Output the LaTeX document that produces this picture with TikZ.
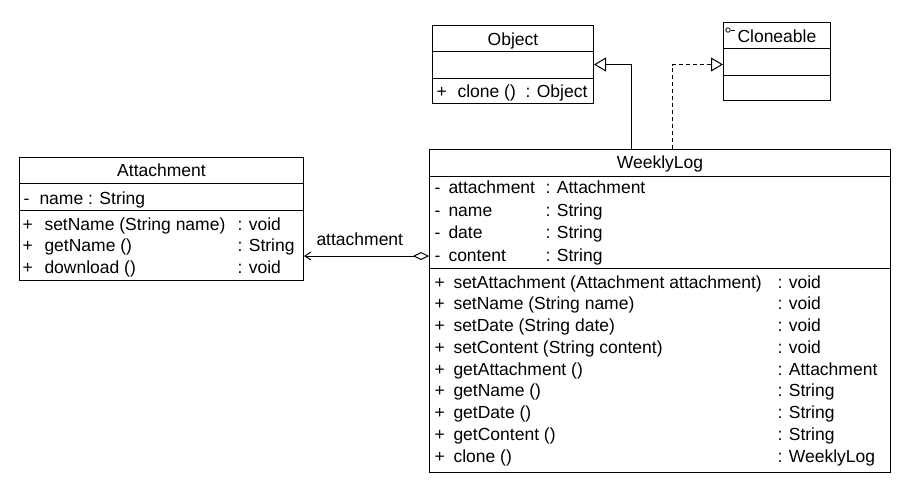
\documentclass[tikz,border=0pt]{standalone}
\usepackage{fontspec}
\setmainfont{Liberation Sans}
\usetikzlibrary{arrows.meta}
\begin{document}
\begin{tikzpicture}[x=1pt,y=-1pt,line width=1pt,
    classbox/.style={draw,anchor=north west,inner sep=0pt},
    umltext/.style={anchor=base west,inner sep=0pt,font=\fontsize{17.5}{20}\selectfont},
    umltitle/.style={anchor=base,inner sep=0pt,font=\fontsize{17.5}{20}\selectfont}]
    \useasboundingbox (0,0) rectangle (912,496);
    % class boxes
    \node[classbox,minimum width=161pt,minimum height=78pt] (object) at (432,25) {};
    \node[classbox,minimum width=107pt,minimum height=78pt] (cloneable) at (723,22) {};
    \node[classbox,minimum width=284pt,minimum height=123pt] (attachment) at (19,157) {};
    \node[classbox,minimum width=461pt,minimum height=323pt] (weeklylog) at (429,149) {};
    \foreach \b/\y in {object/51,object/78,cloneable/48,cloneable/75,
                       attachment/183,attachment/210,weeklylog/176,weeklylog/268}
        \draw (\b.west |- 0,\y) -- (\b.east |- 0,\y);
    % titles
    \node[umltitle] (object-name) at (object.north |- 0,45) {Object};
    \node[umltext] (cloneable-name) at (737,42) {Cloneable};
    \node[circle,draw,line width=0.8pt,inner sep=0pt,minimum size=4.5pt] (cloneable-icon) at (728,30) {};
    \draw[line width=0.8pt] (cloneable-icon.east) -- ++(4,0);
    \node[umltitle] (attachment-name) at (attachment.north |- 0,176) {Attachment};
    \node[umltitle] (weeklylog-name) at (weeklylog.north |- 0,168) {WeeklyLog};
    % Object
    \node[umltext] (object-vis) at (436,97) {+};
    \node[umltext] (object-op) at (457,97) {clone ()};
    \node[umltext] (object-type) at (525,97) {: Object};
    % Attachment
    \node[umltext] (att-vis) at (23,204) {-};
    \node[umltext] (att-attr) at (39,204) {name : String};
    \foreach \n/\t [count=\i] in {{setName (String name)}/void,{getName ()}/String,{download ()}/void} {
        \node[umltext] (att-opvis-\i) at (22,208.5+21.5*\i) {+};
        \node[umltext] (att-op-\i) at (44,208.5+21.5*\i) {\n};
        \node[umltext] (att-optype-\i) at (237,208.5+21.5*\i) {: \t};
    }
    % WeeklyLog
    \foreach \n/\t [count=\i] in {attachment/Attachment,name/String,date/String,content/String} {
        \node[umltext] (wl-vis-\i) at (434,171+22.5*\i) {-};
        \node[umltext] (wl-attr-\i) at (448,171+22.5*\i) {\n};
        \node[umltext] (wl-type-\i) at (545,171+22.5*\i) {: \t};
    }
    \foreach \n/\t [count=\i] in {{setAttachment (Attachment attachment)}/void,{setName (String name)}/void,
                                  {setDate (String date)}/void,{setContent (String content)}/void,
                                  {getAttachment ()}/Attachment,{getName ()}/String,{getDate ()}/String,
                                  {getContent ()}/String,{clone ()}/WeeklyLog} {
        \node[umltext] (wl-opvis-\i) at (434,266.25+21.75*\i) {+};
        \node[umltext] (wl-op-\i) at (453,266.25+21.75*\i) {\n};
        \node[umltext] (wl-optype-\i) at (777,266.25+21.75*\i) {: \t};
    }
    % relations
    \draw[-{Triangle[open,length=12pt,width=14pt]}] (weeklylog.north -| 631,0) |- (object.east);
    \draw[dash pattern=on 4pt off 3pt,-{Triangle[open,length=12pt,width=14pt]}]
        (weeklylog.north -| 672,0) |- (cloneable.west |- object.east);
    \draw[{Diamond[open,length=16pt,width=8pt]}-{Straight Barb[length=6pt,width=8pt]}]
        (weeklylog.west |- 0,256) -- (attachment.east |- 0,256);
    \node[umltext] (assoc-label) at (316,245) {attachment};
\end{tikzpicture}
\end{document}
